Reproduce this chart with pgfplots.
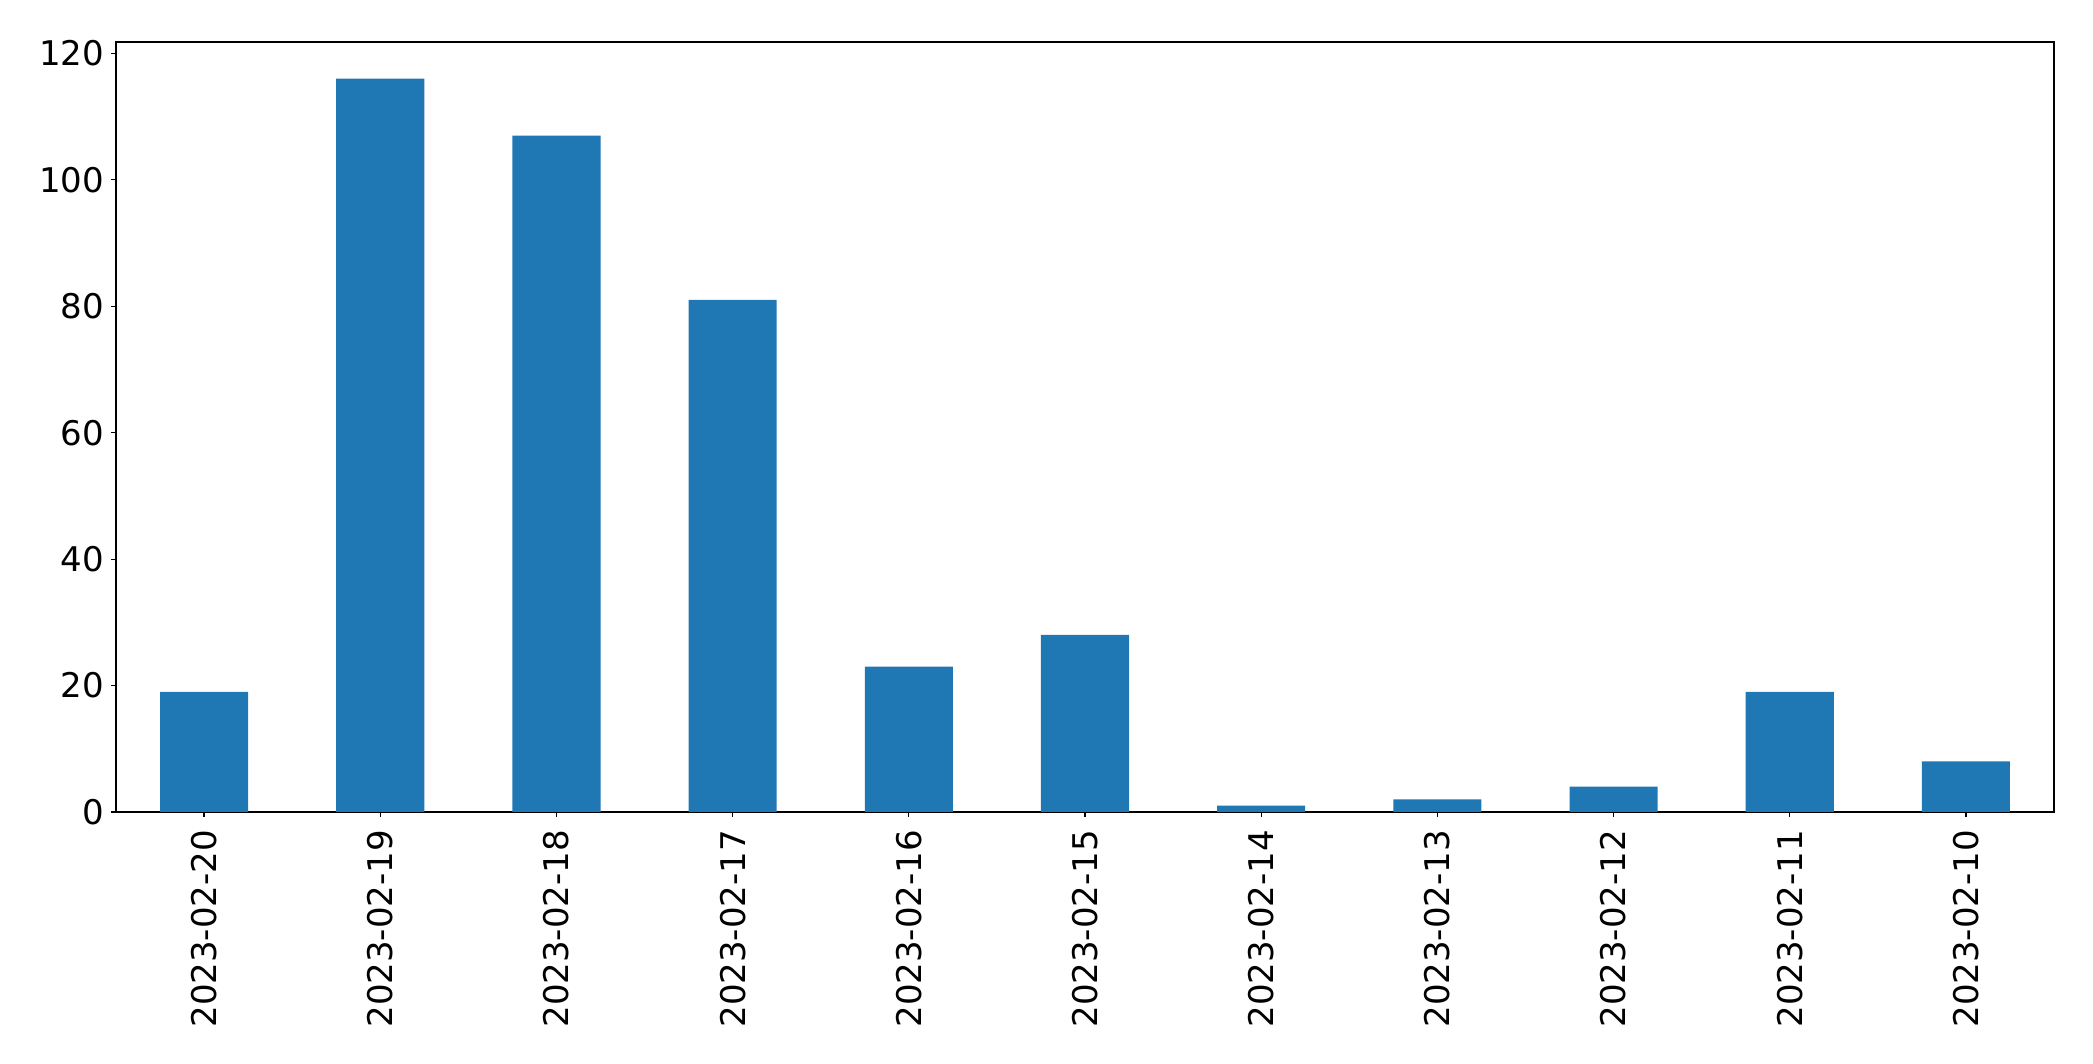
\documentclass[border=0pt]{standalone}
\usepackage{fontspec}
\setmainfont{DejaVu Sans}
\usepackage{pgfplots}
\pgfplotsset{compat=1.18}
\definecolor{mplblue}{HTML}{1F77B4}
\begin{document}
\begin{tikzpicture}
\useasboundingbox (-58pt,-126pt) rectangle (988.5pt,406pt);
\begin{axis}[
  at={(0,0)}, anchor=south west,
  scale only axis, width=969pt, height=385pt,
  xmin=-0.5, xmax=10.5, ymin=0, ymax=121.8,
  xtick={0,...,10},
  xticklabels={2023-02-20,2023-02-19,2023-02-18,2023-02-17,2023-02-16,2023-02-15,2023-02-14,2023-02-13,2023-02-12,2023-02-11,2023-02-10},
  x tick label style={rotate=90, anchor=east, inner sep=0pt, outer sep=0pt},
  xticklabel shift=6.5pt,
  ytick={0,20,40,60,80,100,120},
  y tick label style={inner sep=0pt, outer sep=0pt},
  yticklabel shift=3.5pt,
  tick label style={font=\fontsize{17}{20}\selectfont},
  /pgf/number format/assume math mode=true,
  tick align=outside,
  major tick length=2.5pt,
  xtick pos=bottom, ytick pos=left,
  axis line style={line width=0.6pt, black},
  every tick/.style={line width=0.6pt, black},
]
\addplot[ybar, bar width=0.5, fill=mplblue, draw=none, bar shift=0pt] coordinates {
(0,19) (1,116) (2,107) (3,81) (4,23) (5,28) (6,1) (7,2) (8,4) (9,19) (10,8)
};
\end{axis}
\end{tikzpicture}
\end{document}
